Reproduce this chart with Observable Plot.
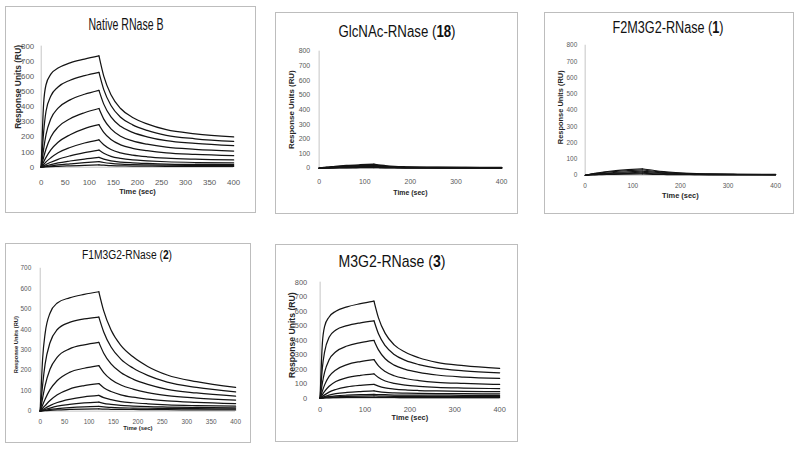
<!DOCTYPE html>
<html><head><meta charset="utf-8">
<script src="https://cdn.jsdelivr.net/npm/d3@7"></script>
<script src="https://cdn.jsdelivr.net/npm/@observablehq/plot@0.6"></script>
<style>
html,body{margin:0;padding:0;background:#fff}
body{width:800px;height:449px;position:relative;overflow:hidden}
.panel{position:absolute;border:1px solid #bdbdbd;box-sizing:border-box;background:#fff}
.panel svg{position:absolute;left:-1px;top:-1px;overflow:visible}
.title{position:absolute;white-space:nowrap;line-height:1;font-family:"Liberation Sans Narrow","Liberation Sans",sans-serif;color:#111;transform-origin:50% 50%}
</style></head><body>
<script>
// ---------- data ----------
const timeAssoc = [0, 5, 10, 20, 35, 60, 90, 120];
const timeDissoc = [120, 130, 145, 165, 190, 220, 260, 320, 400];
const xTicks50 = [0, 50, 100, 150, 200, 250, 300, 350, 400];
const xTicks100 = [0, 100, 200, 300, 400];
const yTicks800 = [0, 100, 200, 300, 400, 500, 600, 700, 800];
const yTicks700 = [0, 100, 200, 300, 400, 500, 600, 700];
const yLabel = "Response Units (RU)";
const xLabel = "Time (sec)";

const titleNative = ["Native RNase B"];
const titleGlcNAc = ["GlcNAc-RNase (", "18", ")"];
const titleF2 = ["F2M3G2-RNase (", "1", ")"];
const titleF1 = ["F1M3G2-RNase (", "2", ")"];
const titleM3 = ["M3G2-RNase (", "3", ")"];

// Native RNase B
const nativeAssoc = [
  [0, 420, 545, 615, 655, 690, 715, 736],
  [0, 230, 370, 470, 530, 575, 605, 627],
  [0, 120, 215, 320, 390, 445, 482, 508],
  [0, 65, 120, 200, 265, 320, 360, 388],
  [0, 35, 65, 115, 165, 215, 255, 281],
  [0, 18, 35, 62, 95, 130, 160, 181],
  [0, 9, 18, 33, 52, 75, 96, 113],
  [0, 5, 9, 17, 28, 41, 54, 65],
  [0, 2, 5, 9, 15, 22, 30, 37],
  [0, 1, 2, 4, 6, 9, 12, 15]
];
const nativeDissoc = [
  [736, 602, 479, 388, 329, 286, 248, 221, 200],
  [627, 513, 408, 330, 280, 243, 211, 188, 170],
  [508, 417, 332, 270, 230, 201, 175, 157, 142],
  [388, 318, 253, 205, 174, 152, 132, 118, 107],
  [281, 230, 183, 148, 125, 109, 94, 84, 76],
  [181, 148, 117, 95, 80, 69, 60, 53, 48],
  [113, 92, 72, 58, 48, 42, 36, 31, 28],
  [65, 53, 42, 34, 29, 25, 21, 19, 17],
  [37, 31, 25, 20, 17, 15, 13, 12, 11],
  [15, 13, 10, 9, 7, 7, 6, 5, 5]
];

// GlcNAc-RNase (18)
const glcAssoc = [
  [0, 2, 4, 7, 12, 18, 23, 27],
  [0, 1, 3, 5, 9, 13, 17, 20],
  [0, 1, 2, 4, 6, 9, 11, 13],
  [0, 1, 1, 2, 4, 5, 7, 8],
  [0, 0, 1, 1, 2, 3, 4, 5]
];
const glcDissoc = [
  [27, 22, 17, 12, 9, 7, 6, 5, 4],
  [20, 16, 12, 9, 7, 5, 4, 4, 3],
  [13, 11, 8, 6, 5, 4, 3, 3, 2],
  [8, 7, 5, 4, 3, 3, 2, 2, 2],
  [5, 4, 3, 3, 2, 2, 2, 1, 1]
];

// F2M3G2-RNase (1)
const f2Assoc = [
  [0, 3, 6, 11, 18, 27, 34, 40],
  [0, 2, 5, 9, 15, 22, 28, 33],
  [0, 2, 4, 7, 11, 16, 21, 25],
  [0, 1, 3, 5, 8, 12, 15, 18],
  [0, 1, 2, 3, 5, 8, 10, 12],
  [0, 0, 1, 2, 3, 5, 6, 7]
];
const f2Dissoc = [
  [40, 35, 29, 22, 16, 11, 8, 6, 5],
  [33, 29, 24, 18, 13, 9, 7, 5, 4],
  [25, 22, 18, 14, 10, 7, 5, 4, 3],
  [18, 16, 13, 10, 8, 6, 4, 3, 3],
  [12, 11, 9, 7, 5, 4, 3, 3, 2],
  [7, 6, 5, 4, 3, 3, 2, 2, 2]
];

// F1M3G2-RNase (2)
const f1Assoc = [
  [0, 260, 380, 480, 530, 555, 572, 585],
  [0, 130, 230, 335, 400, 435, 452, 461],
  [0, 65, 125, 205, 265, 305, 325, 337],
  [0, 30, 58, 105, 150, 190, 210, 223],
  [0, 14, 27, 52, 80, 108, 125, 135],
  [0, 7, 14, 27, 42, 58, 70, 77],
  [0, 4, 8, 15, 24, 33, 40, 44],
  [0, 2, 4, 8, 12, 17, 21, 23],
  [0, 1, 2, 4, 6, 8, 10, 11]
];
const f1Dissoc = [
  [585, 491, 397, 322, 266, 219, 177, 144, 116],
  [461, 388, 314, 255, 211, 175, 142, 116, 94],
  [337, 284, 231, 189, 157, 131, 107, 89, 73],
  [223, 189, 155, 128, 108, 91, 76, 64, 54],
  [135, 115, 96, 80, 68, 59, 50, 43, 37],
  [77, 66, 56, 47, 41, 36, 31, 27, 24],
  [44, 38, 33, 28, 25, 22, 20, 18, 16],
  [23, 21, 18, 16, 15, 14, 13, 12, 11],
  [11, 10, 9, 8, 8, 7, 7, 6, 6]
];

// M3G2-RNase (3)
const m3Assoc = [
  [0, 380, 495, 560, 600, 630, 652, 670],
  [0, 210, 320, 420, 470, 500, 520, 534],
  [0, 105, 180, 265, 320, 360, 383, 398],
  [0, 50, 92, 150, 195, 232, 253, 266],
  [0, 25, 47, 82, 115, 142, 158, 168],
  [0, 12, 23, 42, 60, 78, 89, 95],
  [0, 6, 11, 21, 31, 40, 46, 50],
  [0, 3, 6, 11, 16, 21, 25, 27],
  [0, 2, 4, 7, 10, 13, 15, 16],
  [0, 1, 2, 3, 4, 5, 6, 6]
];
const m3Dissoc = [
  [670, 554, 447, 368, 317, 279, 247, 224, 205],
  [534, 444, 362, 301, 261, 232, 207, 189, 175],
  [398, 333, 272, 228, 199, 178, 160, 146, 136],
  [266, 223, 184, 155, 136, 122, 110, 102, 95],
  [168, 143, 119, 102, 90, 82, 75, 70, 66],
  [95, 83, 71, 63, 57, 53, 50, 47, 45],
  [50, 45, 40, 37, 35, 33, 32, 31, 30],
  [27, 25, 24, 22, 22, 21, 21, 20, 20],
  [16, 15, 14, 13, 12, 12, 11, 11, 11],
  [6, 5, 5, 5, 4, 4, 4, 4, 4]
];

// ---------- build ----------
function sensorgram(assoc, dissoc) {
  const rows = [];
  assoc.forEach((c, i) => c.forEach((r, j) => rows.push({curve: "a" + i, t: timeAssoc[j], r})));
  dissoc.forEach((c, i) => c.forEach((r, j) => rows.push({curve: "d" + i, t: timeDissoc[j], r})));
  return rows;
}

const panels = [
  {rows: sensorgram(nativeAssoc, nativeDissoc), title: titleNative, xt: xTicks50, yt: yTicks800, yMax: 800,
   L: {left: 5, top: 6, w: 251, h: 207, mt: 40, mr: 21, mb: 45, ml: 36, tcx: 120.5, tcy: 19, tw: 75, tfs: 16,
       tickFs: 8, padX: 12, padY: 7, xlFs: 7.5, xlDy: 27, ylFs: 8.5, ylDx: -23, ylDy: -20, sw: 1.25}},
  {rows: sensorgram(glcAssoc, glcDissoc), title: titleGlcNAc, xt: xTicks100, yt: yTicks800, yMax: 800,
   L: {left: 275, top: 12, w: 243, h: 202, mt: 39, mr: 15, mb: 45, ml: 44, tcx: 121.5, tcy: 20, tw: 117, tfs: 16,
       tickFs: 7, padX: 10.5, padY: 9, xlFs: 7, xlDy: 27, ylFs: 8, ylDx: -28, ylDy: 0, sw: 1.5}},
  {rows: sensorgram(f2Assoc, f2Dissoc), title: titleF2, xt: xTicks100, yt: yTicks800, yMax: 800,
   L: {left: 544, top: 12, w: 250, h: 202, mt: 33, mr: 17, mb: 38, ml: 41, tcx: 123.5, tcy: 16, tw: 111, tfs: 16,
       tickFs: 6.5, padX: 8.5, padY: 8, xlFs: 7.5, xlDy: 23, ylFs: 7.5, ylDx: -25, ylDy: -3, sw: 1.1}},
  {rows: sensorgram(f1Assoc, f1Dissoc), title: titleF1, xt: xTicks50, yt: yTicks700, yMax: 700,
   L: {left: 5, top: 243, w: 246, h: 200, mt: 25, mr: 14, mb: 31, ml: 35, tcx: 122, tcy: 12, tw: 90, tfs: 12.5,
       tickFs: 6.5, padX: 8.5, padY: 9, xlFs: 6, xlDy: 19, ylFs: 5.8, ylDx: -24, ylDy: 5, sw: 1.25}},
  {rows: sensorgram(m3Assoc, m3Dissoc), title: titleM3, xt: xTicks100, yt: yTicks800, yMax: 800,
   L: {left: 275, top: 244, w: 243, h: 198, mt: 38, mr: 17, mb: 43, ml: 45, tcx: 116.5, tcy: 17, tw: 107, tfs: 17,
       tickFs: 7.5, padX: 9, padY: 13, xlFs: 7.5, xlDy: 22, ylFs: 8.7, ylDx: -28, ylDy: -5, sw: 1.25}}
];

for (const p of panels) {
  const L = p.L;
  const div = document.createElement("div");
  div.className = "panel";
  Object.assign(div.style, {left: L.left + "px", top: L.top + "px", width: L.w + "px", height: L.h + "px"});
  document.body.appendChild(div);

  const chart = Plot.plot({
    width: L.w, height: L.h,
    marginTop: L.mt, marginRight: L.mr, marginBottom: L.mb, marginLeft: L.ml,
    style: {fontFamily: "'Liberation Sans', Arial, sans-serif", fontSize: L.tickFs + "px", color: "#595959", background: "transparent", overflow: "visible"},
    x: {domain: [0, 400], ticks: p.xt, tickSize: 0, tickPadding: L.padX, label: null},
    y: {domain: [0, p.yMax], ticks: p.yt, tickSize: 0, tickPadding: L.padY, label: null},
    marks: [
      Plot.ruleX([0], {y1: 0, y2: p.yMax, stroke: "#c4c4c4", strokeWidth: 1}),
      Plot.ruleY([0], {stroke: "#c4c4c4"}),
      Plot.line(p.rows, {x: "t", y: "r", z: "curve", stroke: "#141414", strokeWidth: L.sw, curve: "monotone-x"}),
      Plot.text([xLabel], {frameAnchor: "bottom", dy: L.xlDy, text: d => d, textAnchor: "middle", fontFamily: "'Liberation Sans Narrow', 'Liberation Sans', sans-serif", fontWeight: "bold", fontSize: L.xlFs, fill: "#262626"}),
      Plot.text([yLabel], {frameAnchor: "left", dx: L.ylDx, dy: L.ylDy, rotate: -90, textAnchor: "middle", text: d => d, fontFamily: "'Liberation Sans', Arial, sans-serif", fontWeight: "bold", fontSize: L.ylFs, fill: "#262626"})
    ]
  });
  div.appendChild(chart);

  const t = document.createElement("span");
  t.className = "title";
  p.title.forEach((part, i) => {
    const s = document.createElement("span");
    s.textContent = part;
    if (i % 2 === 1) s.style.fontWeight = "bold";
    t.appendChild(s);
  });
  t.style.fontSize = L.tfs + "px";
  t.style.left = (L.tcx - 1) + "px";
  t.style.top = (L.tcy - 1) + "px";
  div.appendChild(t);
  const natural = t.getBoundingClientRect().width;
  t.style.transform = `translate(-50%,-50%) scaleX(${(L.tw / natural).toFixed(3)})`;
}
</script>
</body></html>
